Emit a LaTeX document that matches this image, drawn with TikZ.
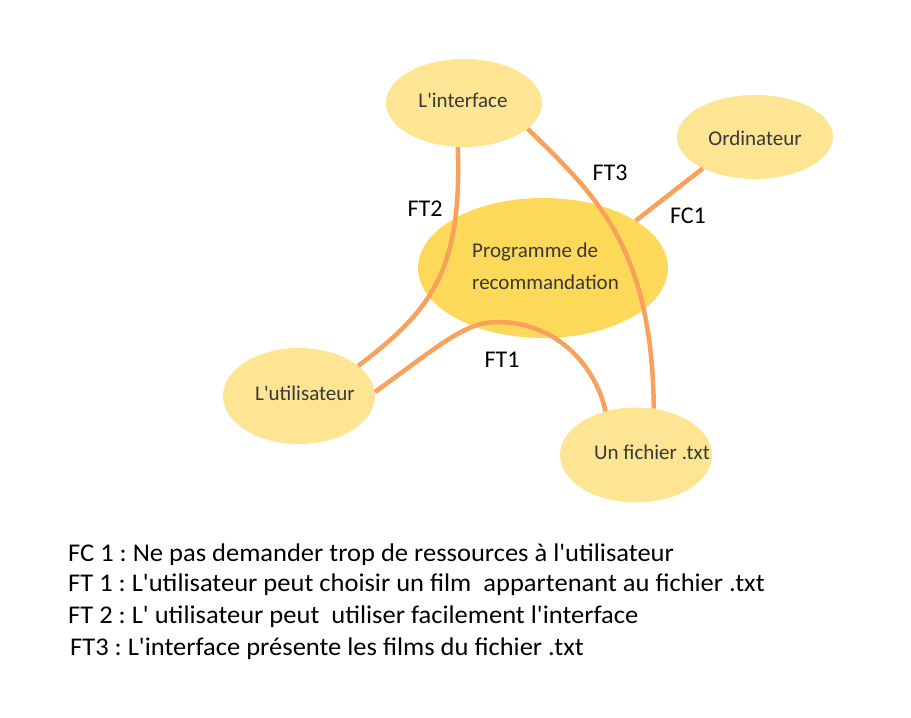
\documentclass[tikz,border=0pt]{standalone}
\usepackage{fontspec}
\setmainfont{Carlito}[Ligatures=TeXOff]
\newfontfamily\legendfont{Carlito}[Ligatures=TeXOff,FakeStretch=1.04]
\usetikzlibrary{shapes.geometric}
\definecolor{lightfill}{HTML}{FDE594}
\definecolor{mainfill}{HTML}{FDD95A}
\definecolor{linkcol}{HTML}{F9A05A}
\definecolor{nodetext}{HTML}{383838}
\begin{document}
\frenchspacing
\begin{tikzpicture}[x=1pt,y=-1pt,
  comp/.style={ellipse,fill=lightfill,inner sep=0pt},
  ctext/.style={text=nodetext,font=\fontsize{21}{24}\selectfont,inner sep=0pt},
  link/.style={draw=linkcol,line width=4.5pt},
  lab/.style={font=\fontsize{24}{28}\selectfont,text=black,inner sep=0pt},
  legend/.style={anchor=base west,font=\legendfont\fontsize{25.5}{28}\selectfont,text=black,inner sep=0pt}]
\useasboundingbox (0,0) rectangle (911,718);
\node[comp,fill=mainfill,minimum width=250pt,minimum height=140pt] (prog) at (543,268) {};
\node[comp,minimum width=156pt,minimum height=88pt] (iface) at (464,103) {};
\node[comp,minimum width=156pt,minimum height=84pt] (ordi) at (755,137) {};
\node[comp,minimum width=152pt,minimum height=96pt] (user) at (299,396) {};
\node[comp,minimum width=152pt,minimum height=95pt] (txt) at (636,455) {};
% node texts
\node[ctext,anchor=base west] (tprog1) at (472,257) {Programme de};
\node[ctext,anchor=base west] (tprog2) at (472,289) {recommandation};
\node[ctext] (tiface) at (463,100) {L'interface};
\node[ctext] (tordi) at (755,138) {Ordinateur};
\node[ctext] (tuser) at (305,393) {L'utilisateur};
\node[ctext] (ttxt) at (652,452) {Un fichier .txt};
% connectors
\draw[link] (iface.-98) .. controls (462,270) and (432,310) .. (user.27);
\draw[link] (iface.-22) .. controls (595,195) and (652,245) .. (txt.69);
\draw[link] (prog.27) -- (ordi.211);
\draw[link] (user.3) .. controls (440,345) and (465,322) .. (497,322)
  .. controls (560,322) and (597,370) .. (txt.125);
% labels
\node[lab] (lft2) at (425,209) {FT2};
\node[lab] (lft3) at (610,173) {FT3};
\node[lab] (lfc1) at (688,216) {FC1};
\node[lab] (lft1) at (502,360) {FT1};
% legend
\node[legend] (l1) at (68,561) {FC 1 : Ne pas demander trop de ressources à l'utilisateur};
\node[legend] (l2) at (68,591) {FT 1 : L'utilisateur peut choisir un film\ \ appartenant au fichier .txt};
\node[legend] (l3) at (68,623) {FT 2 : L' utilisateur peut\ \ utiliser facilement l'interface};
\node[legend] (l4) at (70,655) {FT3 : L'interface présente les films du fichier .txt};
\end{tikzpicture}
\end{document}
